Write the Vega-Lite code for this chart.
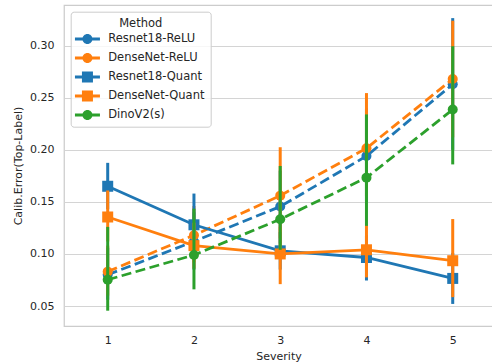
{
  "$schema": "https://vega.github.io/schema/vega-lite/v6.json",
  "autosize": {"type": "none"},
  "padding": {"left": 64, "top": 5, "right": 0, "bottom": 38},
  "width": 429,
  "height": 321,
  "background": "white",
  "config": {
    "font": "DejaVu Sans",
    "view": {"stroke": "#cccccc", "strokeWidth": 1.25},
    "axis": {
      "labelFont": "DejaVu Sans",
      "titleFont": "DejaVu Sans",
      "labelFontSize": 11,
      "titleFontSize": 11,
      "titleFontWeight": "normal",
      "labelColor": "#262626",
      "titleColor": "#262626",
      "ticks": false,
      "domain": false,
      "gridColor": "#d4d4d4",
      "gridWidth": 1
    },
    "legend": {
      "labelFont": "DejaVu Sans",
      "titleFont": "DejaVu Sans",
      "labelFontSize": 11.5,
      "titleFontSize": 11.5,
      "titleFontWeight": "normal",
      "labelColor": "#262626",
      "titleColor": "#262626"
    }
  },
  "data": {
    "values": [
      {"Method": "Resnet18-ReLU", "Severity": 1, "value": 0.080, "lo": 0.056, "hi": 0.106},
      {"Method": "Resnet18-ReLU", "Severity": 2, "value": 0.112, "lo": 0.085, "hi": 0.140},
      {"Method": "Resnet18-ReLU", "Severity": 3, "value": 0.1455, "lo": 0.110, "hi": 0.180},
      {"Method": "Resnet18-ReLU", "Severity": 4, "value": 0.194, "lo": 0.150, "hi": 0.240},
      {"Method": "Resnet18-ReLU", "Severity": 5, "value": 0.263, "lo": 0.200, "hi": 0.3265},
      {"Method": "DenseNet-ReLU", "Severity": 1, "value": 0.083, "lo": 0.060, "hi": 0.108},
      {"Method": "DenseNet-ReLU", "Severity": 2, "value": 0.118, "lo": 0.092, "hi": 0.146},
      {"Method": "DenseNet-ReLU", "Severity": 3, "value": 0.156, "lo": 0.115, "hi": 0.2025},
      {"Method": "DenseNet-ReLU", "Severity": 4, "value": 0.2015, "lo": 0.155, "hi": 0.2545},
      {"Method": "DenseNet-ReLU", "Severity": 5, "value": 0.268, "lo": 0.212, "hi": 0.324},
      {"Method": "Resnet18-Quant", "Severity": 1, "value": 0.165, "lo": 0.143, "hi": 0.1875},
      {"Method": "Resnet18-Quant", "Severity": 2, "value": 0.128, "lo": 0.100, "hi": 0.158},
      {"Method": "Resnet18-Quant", "Severity": 3, "value": 0.103, "lo": 0.085, "hi": 0.121},
      {"Method": "Resnet18-Quant", "Severity": 4, "value": 0.0966, "lo": 0.0745, "hi": 0.118},
      {"Method": "Resnet18-Quant", "Severity": 5, "value": 0.0765, "lo": 0.052, "hi": 0.101},
      {"Method": "DenseNet-Quant", "Severity": 1, "value": 0.1355, "lo": 0.112, "hi": 0.161},
      {"Method": "DenseNet-Quant", "Severity": 2, "value": 0.108, "lo": 0.086, "hi": 0.130},
      {"Method": "DenseNet-Quant", "Severity": 3, "value": 0.100, "lo": 0.071, "hi": 0.126},
      {"Method": "DenseNet-Quant", "Severity": 4, "value": 0.104, "lo": 0.0775, "hi": 0.128},
      {"Method": "DenseNet-Quant", "Severity": 5, "value": 0.0935, "lo": 0.0585, "hi": 0.1335},
      {"Method": "DinoV2(s)", "Severity": 1, "value": 0.0752, "lo": 0.0455, "hi": 0.126},
      {"Method": "DinoV2(s)", "Severity": 2, "value": 0.099, "lo": 0.066, "hi": 0.1435},
      {"Method": "DinoV2(s)", "Severity": 3, "value": 0.1333, "lo": 0.104, "hi": 0.1845},
      {"Method": "DinoV2(s)", "Severity": 4, "value": 0.1733, "lo": 0.127, "hi": 0.234},
      {"Method": "DinoV2(s)", "Severity": 5, "value": 0.2387, "lo": 0.186, "hi": 0.2995}
    ]
  },
  "encoding": {
    "x": {
      "field": "Severity",
      "type": "quantitative",
      "title": "Severity",
      "scale": {"domain": [0.4933, 5.467], "nice": false, "zero": false},
      "axis": {"values": [1, 2, 3, 4, 5], "format": "d", "grid": false, "labelPadding": 8, "titlePadding": 5}
    },
    "y": {
      "type": "quantitative",
      "title": "Calib.Error(Top-Label)",
      "scale": {"domain": [0.0308, 0.3391], "nice": false, "zero": false},
      "axis": {"values": [0.05, 0.10, 0.15, 0.20, 0.25, 0.30], "format": ".2f", "grid": true, "labelPadding": 10, "titlePadding": 6}
    },
    "color": {
      "field": "Method",
      "type": "nominal",
      "scale": {
        "domain": ["Resnet18-ReLU", "DenseNet-ReLU", "Resnet18-Quant", "DenseNet-Quant", "DinoV2(s)"],
        "range": ["#1f77b4", "#ff7f0e", "#1f77b4", "#ff7f0e", "#2ca02c"]
      },
      "legend": {
        "title": "Method",
        "orient": "none",
        "legendX": 6.7,
        "legendY": 6.7,
        "titleAnchor": "middle",
        "padding": 6,
        "fillColor": "rgba(255,255,255,0.8)",
        "strokeColor": "#cccccc",
        "cornerRadius": 3,
        "symbolSize": 100,
        "symbolOffset": 5,
        "labelOffset": 15,
        "rowPadding": 6,
        "titlePadding": 4,
        "encode": {
          "symbols": {
            "update": {
              "shape": {"signal": "indexof(datum.value, 'Quant') >= 0 ? 'M-2.5,-0.3H2.5V0.3H-2.5Z M-1.1,-1.1H1.1V1.1H-1.1Z' : 'M-2.5,-0.3H2.5V0.3H-2.5Z M1,0A1,1 0 1,1 -1,0A1,1 0 1,1 1,0Z'"},
              "fill": {"scale": "color", "field": "value"},
              "stroke": {"value": "transparent"},
              "strokeWidth": {"value": 0},
              "opacity": {"value": 1},
              "fillOpacity": {"value": 1}
            }
          }
        }
      }
    }
  },
  "layer": [
    {
      "transform": [{"filter": "datum.Method === 'Resnet18-ReLU'"}],
      "layer": [
        {"mark": {"type": "line", "strokeWidth": 2.8, "strokeDash": [10, 4.5]}, "encoding": {"y": {"field": "value"}}},
        {"mark": {"type": "rule", "strokeWidth": 3}, "encoding": {"y": {"field": "lo"}, "y2": {"field": "hi"}}},
        {"mark": {"type": "point", "shape": "circle", "filled": true, "opacity": 1, "size": 100}, "encoding": {"y": {"field": "value"}}}
      ]
    },
    {
      "transform": [{"filter": "datum.Method === 'DenseNet-ReLU'"}],
      "layer": [
        {"mark": {"type": "line", "strokeWidth": 2.8, "strokeDash": [10, 4.5]}, "encoding": {"y": {"field": "value"}}},
        {"mark": {"type": "rule", "strokeWidth": 3}, "encoding": {"y": {"field": "lo"}, "y2": {"field": "hi"}}},
        {"mark": {"type": "point", "shape": "circle", "filled": true, "opacity": 1, "size": 100}, "encoding": {"y": {"field": "value"}}}
      ]
    },
    {
      "transform": [{"filter": "datum.Method === 'Resnet18-Quant'"}],
      "layer": [
        {"mark": {"type": "line", "strokeWidth": 2.8}, "encoding": {"y": {"field": "value"}}},
        {"mark": {"type": "rule", "strokeWidth": 3}, "encoding": {"y": {"field": "lo"}, "y2": {"field": "hi"}}},
        {"mark": {"type": "point", "shape": "square", "filled": true, "opacity": 1, "size": 121}, "encoding": {"y": {"field": "value"}}}
      ]
    },
    {
      "transform": [{"filter": "datum.Method === 'DenseNet-Quant'"}],
      "layer": [
        {"mark": {"type": "line", "strokeWidth": 2.8}, "encoding": {"y": {"field": "value"}}},
        {"mark": {"type": "rule", "strokeWidth": 3}, "encoding": {"y": {"field": "lo"}, "y2": {"field": "hi"}}},
        {"mark": {"type": "point", "shape": "square", "filled": true, "opacity": 1, "size": 121}, "encoding": {"y": {"field": "value"}}}
      ]
    },
    {
      "transform": [{"filter": "datum.Method === 'DinoV2(s)'"}],
      "layer": [
        {"mark": {"type": "line", "strokeWidth": 2.8, "strokeDash": [10, 4.5]}, "encoding": {"y": {"field": "value"}}},
        {"mark": {"type": "rule", "strokeWidth": 3}, "encoding": {"y": {"field": "lo"}, "y2": {"field": "hi"}}},
        {"mark": {"type": "point", "shape": "circle", "filled": true, "opacity": 1, "size": 100}, "encoding": {"y": {"field": "value"}}}
      ]
    }
  ],
  "usermeta": {"embedOptions": {"actions": false}}
}
